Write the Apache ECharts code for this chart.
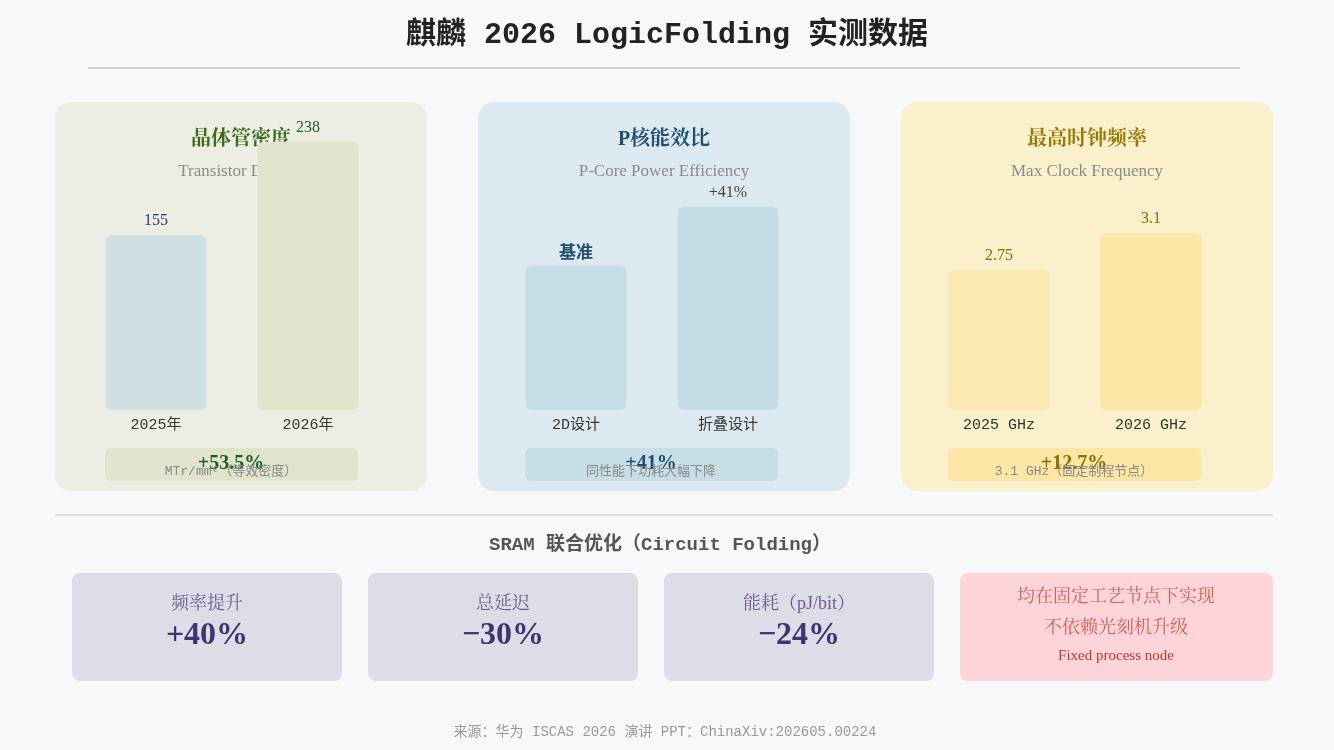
<!DOCTYPE html>
<html><head><meta charset="utf-8">
<script src="https://cdn.jsdelivr.net/npm/echarts@6/dist/echarts.min.js"></script>
<style>html,body{margin:0;background:#f7f8fa}#c{width:1334px;height:750px}</style>
</head><body><div id="c"></div>
<script>
const densityCats = ['2025年', '2026年'];
const densityVals = [155, 238];
const effCats = ['2D设计', '折叠设计'];
const effVals = [100, 141];
const effLabels = ['基准', '+41%'];
const clockCats = ['2025 GHz', '2026 GHz'];
const clockVals = [2.75, 3.1];
const sramNames = ['频率提升', '总延迟', '能耗（pJ/bit）'];
const sramVals = ['+40%', '−30%', '−24%'];

const mono = '"Liberation Mono","Noto Sans CJK SC",monospace';
const serif = '"Liberation Serif","Noto Serif CJK SC","Noto Sans CJK SC",serif';
const chart = echarts.init(document.getElementById('c'));

const cards = [
  {x:55, bx:105, bg:'#eceee4', box:'#e0e4cc', t:'晶体管密度', s:'Transistor Density', tc:'#3d6b1e', sum:'+53.5%', sc:'#1e5b2a', note:'MTr/mm²（等效密度）'},
  {x:478, bx:525, bg:'#dde9f0', box:'#c7dee7', t:'P核能效比', s:'P-Core Power Efficiency', tc:'#1f4e6e', sum:'+41%', sc:'#1f4e6e', note:'同性能下功耗大幅下降'},
  {x:901, bx:948, bg:'#faf0cc', box:'#fbe6a5', t:'最高时钟频率', s:'Max Clock Frequency', tc:'#9a7a06', sum:'+12.7%', sc:'#8a6d05', note:'3.1 GHz（固定制程节点）'}
];
const g = [];
g.push({type:'text', left:'center', top:20, style:{text:'麒麟 2026 LogicFolding 实测数据', font:'bold 30px '+mono, fill:'#222'}});
g.push({type:'line', shape:{x1:88,y1:68,x2:1240,y2:68}, style:{stroke:'#cfd2d6', lineWidth:2}});
cards.forEach(c=>{
  g.push({type:'rect', z:-10, shape:{x:c.x,y:102,width:372,height:389,r:16}, style:{fill:c.bg}});
  g.push({type:'text', z:-5, x:c.x+186, y:140, style:{text:c.t, font:'bold 20px '+serif, fill:c.tc, align:'center', verticalAlign:'middle'}});
  g.push({type:'text', z:-5, x:c.x+186, y:172, style:{text:c.s, font:'17px '+serif, fill:'#8a8a8a', align:'center', verticalAlign:'middle'}});
  g.push({type:'rect', z:-5, shape:{x:c.bx,y:448,width:253,height:33,r:6}, style:{fill:c.box}});
  g.push({type:'text', z:20, x:c.bx+126, y:464, style:{text:c.sum, font:'bold 20px '+serif, fill:c.sc, align:'center', verticalAlign:'middle'}});
  g.push({type:'text', z:21, x:c.bx+126, y:472, style:{text:c.note, font:'13px '+mono, fill:'#888', align:'center', verticalAlign:'middle'}});
});
g.push({type:'line', shape:{x1:55,y1:515,x2:1273,y2:515}, style:{stroke:'#dcdee2', lineWidth:2}});
g.push({type:'text', x:660, y:545, style:{text:'SRAM 联合优化（Circuit Folding）', font:'bold 19px '+mono, fill:'#555', align:'center', verticalAlign:'middle'}});
sramNames.forEach((n,i)=>{
  const x = 72 + i*296;
  g.push({type:'rect', shape:{x:x,y:573,width:270,height:108,r:8}, style:{fill:'#dddde8'}});
  g.push({type:'text', x:x+135, y:604, style:{text:n, font:'18px '+serif, fill:'#6e5d8c', align:'center', verticalAlign:'middle'}});
  g.push({type:'text', x:x+135, y:636, style:{text:sramVals[i], font:'bold 32px '+serif, fill:'#3f3370', align:'center', verticalAlign:'middle'}});
});
g.push({type:'rect', shape:{x:960,y:573,width:313,height:108,r:8}, style:{fill:'#fdd5d8'}});
g.push({type:'text', x:1116, y:597, style:{text:'均在固定工艺节点下实现', font:'18px '+serif, fill:'#d0605a', align:'center', verticalAlign:'middle'}});
g.push({type:'text', x:1116, y:628, style:{text:'不依赖光刻机升级', font:'18px '+serif, fill:'#d0605a', align:'center', verticalAlign:'middle'}});
g.push({type:'text', x:1116, y:656, style:{text:'Fixed process node', font:'15px '+serif, fill:'#c0392b', align:'center', verticalAlign:'middle'}});
g.push({type:'text', x:665, y:732, style:{text:'来源：华为 ISCAS 2026 演讲 PPT：ChinaXiv:202605.00224', font:'14px '+mono, fill:'#999', align:'center', verticalAlign:'middle'}});

const gl = [80, 500, 923];
const grids = gl.map(l=>({left:l, width:304, top:100, bottom:340}));
const xAxes = [densityCats, effCats, clockCats].map((d,i)=>({type:'category', gridIndex:i, data:d, axisLine:{show:false}, axisTick:{show:false},
  axisLabel:{margin:8, fontFamily:mono, fontSize:15, color:'#333'}}));
const yAxes = [{min:0,max:275},{min:0,max:215},{min:1.426,max:4.36}].map((a,i)=>({type:'value', gridIndex:i, min:a.min, max:a.max, show:false, splitLine:{show:false}}));
const colors = [['#cfe0e3','#e0e4cc'],['#c6dde6','#c3dce6'],['#fbe9b2','#fbe6a5']];
const labelColors = [['#1e3a5f','#1e5b2a'],['#1f4e6e','#444'],['#8a6d05','#8a6d05']];
const datas = [densityVals, effVals, clockVals];
const series = datas.map((d,i)=>({type:'bar', xAxisIndex:i, yAxisIndex:i, barWidth:101,
  data:d.map((v,j)=>({value:v, itemStyle:{color:colors[i][j], borderRadius:6},
    label:{show:true, position:'top', distance:6, fontFamily: (i==1&&j==0)?'"Noto Sans CJK SC"':serif, fontSize:(i==1&&j==0)?17:16,
      fontWeight:(i==1&&j==0)?'bold':'normal', color:labelColors[i][j],
      formatter: i==1 ? effLabels[j] : String(v)}}))}));

chart.setOption({animation:false, backgroundColor:'#f7f8fa', graphic:g, grid:grids, xAxis:xAxes, yAxis:yAxes, series:series});
</script></body></html>
